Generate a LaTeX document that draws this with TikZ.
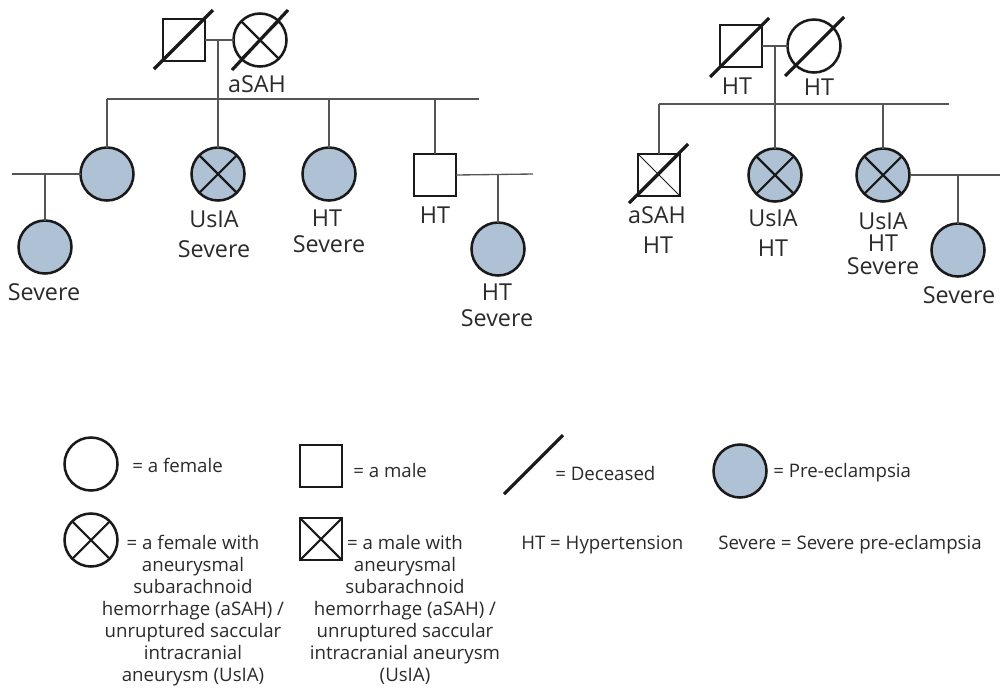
\documentclass[tikz,border=0pt]{standalone}
\usepackage{fontspec}
\setmainfont{Open Sans}
\usetikzlibrary{calc}
\definecolor{pefill}{HTML}{AFC1D5}
\definecolor{ink}{HTML}{1A1A1A}
\definecolor{connc}{HTML}{555555}
\definecolor{txt}{HTML}{2A2A2A}
\begin{document}
\begin{tikzpicture}[x=0.75pt,y=-0.75pt,
  fem/.style={circle,draw=ink,line width=1.9pt,minimum size=39.75pt,inner sep=0pt,outer sep=0pt},
  mal/.style={rectangle,draw=ink,line width=1.9pt,minimum size=31.5pt,inner sep=0pt,outer sep=0pt},
  pec/.style={fill=pefill},
  xc/.style={path picture={\draw[ink,line width=1.6pt]
      (path picture bounding box.north west) -- (path picture bounding box.south east)
      (path picture bounding box.north east) -- (path picture bounding box.south west);}},
  xthin/.style={path picture={\draw[ink,line width=0.6pt]
      (path picture bounding box.north west) -- (path picture bounding box.south east)
      (path picture bounding box.north east) -- (path picture bounding box.south west);}},
  slash/.style={draw=ink,line width=2.4pt},
  conn/.style={draw=connc,line width=1pt},
  lbl/.style={font=\fontsize{17.5}{21}\selectfont,text=txt,inner sep=0pt},
  leg/.style={font=\fontsize{14}{16.5}\selectfont,text=txt,inner sep=0pt},
]
\useasboundingbox (0,0) rectangle (1003,687);

% ---------------- Left family ----------------
\node[mal] (LF) at (184,40) {};
\node[fem,xc] (LM) at (260,40) {};
\draw[slash] ($(LF.center)+(-30,29)$) -- ($(LF.center)+(29,-30)$);
\draw[slash] ($(LM.center)+(-28,30)$) -- ($(LM.center)+(28,-30)$);
\node[lbl] (LMl) at (257,84) {aSAH};

\coordinate (Lm) at (218,40);
\coordinate (LsL) at (107,99);
\coordinate (LsR) at (479,99);
\coordinate (Ls3) at (329,99);
\coordinate (Ls4) at (435,99);

\node[fem,pec] (C1) at (107,174) {};
\node[fem,pec,xc] (C2) at (218,174) {};
\node[fem,pec] (C3) at (329,174) {};
\node[mal] (C4) at (435,175) {};

\draw[conn] (LF.east) -- (LM.west);
\draw[conn] (LsL) -- (LsR);
\draw[conn] (Lm) -- (C2.north);
\draw[conn] (LsL) -- (C1.north);
\draw[conn] (Ls3) -- (C3.north);
\draw[conn] (Ls4) -- (C4.north);

\node[lbl] (C2a) at (214,219) {UsIA};
\node[lbl] (C2b) at (214,249) {Severe};
\node[lbl] (C3a) at (327,218) {HT};
\node[lbl] (C3b) at (329,244) {Severe};
\node[lbl] (C4a) at (435,215) {HT};

\coordinate (Sp1) at (12,174);
\coordinate (D1) at (45,174);
\node[fem,pec] (G1) at (45,247) {};
\draw[conn] (Sp1) -- (C1.west);
\draw[conn] (D1) -- (G1.north);
\node[lbl] (G1a) at (44,292) {Severe};

\coordinate (Sp2) at (533,174);
\coordinate (D2) at (498,174);
\node[fem,pec] (G2) at (498,249) {};
\draw[conn] (C4.east) -- (Sp2);
\draw[conn] (D2) -- (G2.north);
\node[lbl] (G2a) at (497,292) {HT};
\node[lbl] (G2b) at (497,318) {Severe};

% ---------------- Right family ----------------
\node[mal] (RF) at (741,46) {};
\node[fem] (RM) at (814,46) {};
\draw[slash] ($(RF.center)+(-31,31)$) -- ($(RF.center)+(28,-28)$);
\draw[slash] ($(RM.center)+(-29,30)$) -- ($(RM.center)+(30,-29)$);
\node[lbl] (RFl) at (737,86) {HT};
\node[lbl] (RMl) at (819,87) {HT};

\coordinate (Rm) at (775,46);
\coordinate (RsL) at (659,104);
\coordinate (RsR) at (949,104);
\coordinate (Rs3) at (883,104);

\node[mal,xthin] (R1) at (659,175) {};
\node[fem,pec,xc] (R2) at (775,175) {};
\node[fem,pec,xc] (R3) at (883,175) {};
\draw[slash] ($(R1.center)+(-30,28)$) -- ($(R1.center)+(29,-31)$);

\draw[conn] (RF.east) -- (RM.west);
\draw[conn] (RsL) -- (RsR);
\draw[conn] (Rm) -- (R2.north);
\draw[conn] (RsL) -- (R1.north);
\draw[conn] (Rs3) -- (R3.north);

\node[lbl] (R1a) at (657,215) {aSAH};
\node[lbl] (R1b) at (658,245) {HT};
\node[lbl] (R2a) at (773,218) {UsIA};
\node[lbl] (R2b) at (773,248) {HT};
\node[lbl] (R3a) at (883,221) {UsIA};
\node[lbl] (R3b) at (883,243) {HT};
\node[lbl] (R3c) at (883,266) {Severe};

\coordinate (Sp3) at (1000,175);
\coordinate (D3) at (958,175);
\node[fem,pec] (R4) at (958,250) {};
\draw[conn] (R3.east) -- (Sp3);
\draw[conn] (D3) -- (R4.north);
\node[lbl] (R4a) at (959,295) {Severe};

% ---------------- Legend ----------------
\node[fem] (LgF) at (91,464) {};
\node[leg,anchor=west] (LgFt) at (132,465) {= a female};
\node[mal] (LgM) at (321,466) {};
\node[leg,anchor=west] (LgMt) at (353,470) {= a male};
\coordinate (Dl1) at (504,494);
\coordinate (Dl2) at (563,435);
\draw[slash] (Dl1) -- (Dl2);
\node[leg,anchor=west] (LgDt) at (555,473) {= Deceased};
\node[fem,pec] (LgP) at (740,471) {};
\node[leg,anchor=west] (LgPt) at (773,473) {= Pre-eclampsia};

\node[fem,xc] (LgFX) at (91,540) {};
\node[leg,align=center,anchor=north] (LgFXt) at (193,535) {= a female with\\aneurysmal\\subarachnoid\\hemorrhage (aSAH) /\\unruptured saccular\\intracranial\\aneurysm (UsIA)};
\node[mal,xc] (LgMX) at (321,539) {};
\node[leg,align=center,anchor=north] (LgMXt) at (405,535) {= a male with\\aneurysmal\\subarachnoid\\hemorrhage (aSAH) /\\unruptured saccular\\intracranial aneurysm\\(UsIA)};
\node[leg,anchor=west] (LgHT) at (521,545) {HT = Hypertension};
\node[leg,anchor=west] (LgSv) at (718,545) {Severe = Severe pre-eclampsia};
\end{tikzpicture}
\end{document}
